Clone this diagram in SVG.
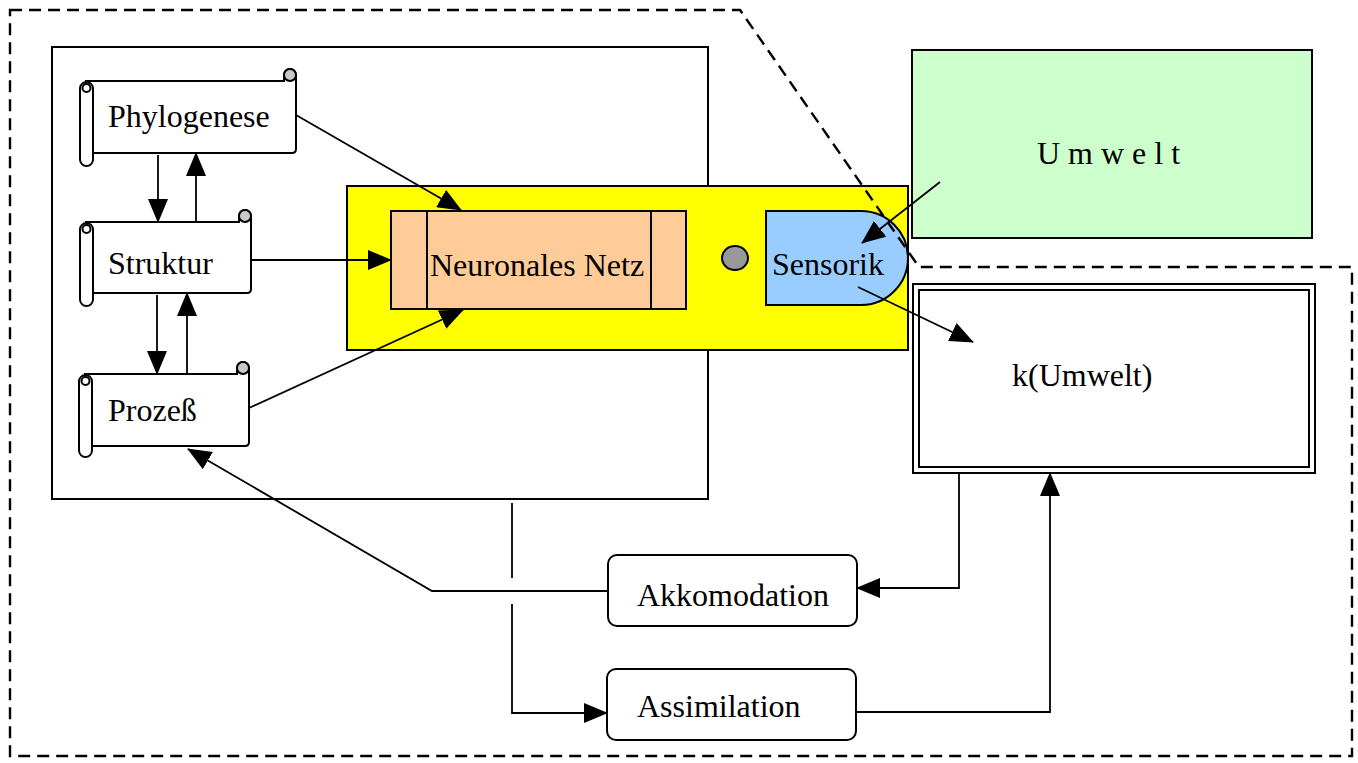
<svg xmlns="http://www.w3.org/2000/svg" width="1358" height="763" viewBox="0 0 1358 763">
<style>
.t{font-family:"Liberation Serif","Times New Roman",serif;font-size:32px;fill:#000}
.s{stroke:#000;stroke-width:2;fill:none}
.c{stroke:#000;stroke-width:1.8;fill:none}
.d{stroke:#000;stroke-width:2.4;fill:none;stroke-dasharray:12 7}
.w{fill:#fff;stroke:#000;stroke-width:2}
.curl{fill:#c8c8c8;stroke:#000;stroke-width:2}
</style>
<defs>
<marker id="ah" markerUnits="userSpaceOnUse" markerWidth="24" markerHeight="20" viewBox="0 0 24 20" refX="23" refY="10" orient="auto">
<path d="M0,0 L24,10 L0,20 Z" fill="#000"/>
</marker>
</defs>
<rect width="1358" height="763" fill="#fff"/>

<g id="system-frame">
<rect x="52" y="47" width="656" height="452" class="s" fill="none"/>
</g>

<g id="umwelt">
<rect x="912" y="50" width="400" height="188" fill="#ccffcc" stroke="#000" stroke-width="2"/>
<text class="t" x="1037" y="164">U m w e l t</text>
</g>

<g id="kernel">
<rect x="347" y="186" width="561" height="164" fill="#ffff00" stroke="#000" stroke-width="2"/>
</g>

<g id="neuronales-netz">
<rect x="391" y="211" width="295" height="98" fill="#ffcc99" stroke="#000" stroke-width="2"/>
<line x1="427" y1="211" x2="427" y2="309" class="s"/>
<line x1="651" y1="211" x2="651" y2="309" class="s"/>
<text class="t" x="430" y="276">Neuronales Netz</text>
</g>

<g id="knoten">
<ellipse cx="735" cy="258" rx="13" ry="12" fill="#999" stroke="#000" stroke-width="2"/>
</g>

<g id="sensorik">
<path d="M766,211 H861 A47,47 0 0 1 861,305 H766 Z" fill="#99ccff" stroke="#000" stroke-width="2"/>
<text class="t" x="772" y="275">Sensorik</text>
</g>

<g id="k-umwelt">
<rect x="913" y="284" width="402" height="189" class="s" fill="#fff"/>
<rect x="919" y="290" width="390" height="177" class="s"/>
<text class="t" x="1012" y="386">k(Umwelt)</text>
</g>

<g id="phylogenese">
<path d="M93,81 H284 V75 A6,6 0 0 1 296,75 V149 Q296,153 292,153 H93 Z" fill="#fff" stroke="none"/>
<path class="s" d="M85,81 H284 V75 A6,6 0 0 1 296,75 V149 Q296,153 292,153 H93"/>
<circle class="curl" cx="290" cy="75" r="6"/>
<rect class="w" x="80" y="82" width="13" height="84" rx="6.5"/>
<circle class="s" cx="86.5" cy="88" r="4"/>
<text class="t" x="108" y="127">Phylogenese</text>
</g>

<g id="struktur">
<path d="M93,222 H239 V216 A6,6 0 0 1 251,216 V289 Q251,293 247,293 H93 Z" fill="#fff" stroke="none"/>
<path class="s" d="M85,222 H239 V216 A6,6 0 0 1 251,216 V289 Q251,293 247,293 H93"/>
<circle class="curl" cx="245" cy="216" r="6"/>
<rect class="w" x="80" y="223" width="13" height="83" rx="6.5"/>
<circle class="s" cx="86.5" cy="229" r="4"/>
<text class="t" x="108" y="274">Struktur</text>
</g>

<g id="prozess">
<path d="M92,374 H237 V368 A6,6 0 0 1 249,368 V442 Q249,446 245,446 H92 Z" fill="#fff" stroke="none"/>
<path class="s" d="M84,374 H237 V368 A6,6 0 0 1 249,368 V442 Q249,446 245,446 H92"/>
<circle class="curl" cx="243" cy="368" r="6"/>
<rect class="w" x="79" y="375" width="13" height="82" rx="6.5"/>
<circle class="s" cx="85.5" cy="381" r="4"/>
<text class="t" x="108" y="421">Prozeß</text>
</g>

<g id="akkomodation">
<rect class="w" x="608" y="555" width="249" height="71" rx="9"/>
<text class="t" x="637" y="606">Akkomodation</text>
</g>

<g id="assimilation">
<rect class="w" x="607" y="669" width="249" height="71" rx="9"/>
<text class="t" x="637" y="717">Assimilation</text>
</g>

<g id="connectors">
<line class="c" x1="296" y1="115" x2="461" y2="210" marker-end="url(#ah)"/>
<line class="c" x1="251" y1="260" x2="391" y2="260" marker-end="url(#ah)"/>
<line class="c" x1="249" y1="408" x2="463" y2="310" marker-end="url(#ah)"/>
<line class="c" x1="158" y1="155" x2="158" y2="222" marker-end="url(#ah)"/>
<line class="c" x1="196" y1="222" x2="196" y2="153" marker-end="url(#ah)"/>
<line class="c" x1="157" y1="295" x2="157" y2="374" marker-end="url(#ah)"/>
<line class="c" x1="187" y1="374" x2="187" y2="293" marker-end="url(#ah)"/>
<line class="c" x1="940" y1="182" x2="862" y2="243" marker-end="url(#ah)"/>
<line class="c" x1="858" y1="287" x2="973" y2="342" marker-end="url(#ah)"/>
<polyline class="c" points="959,473 959,588 857,588" marker-end="url(#ah)"/>
<polyline class="c" points="856,712 1050,712 1050,473" marker-end="url(#ah)"/>
<polyline class="c" points="608,591 432,591 188,449" marker-end="url(#ah)"/>
<line class="c" x1="512" y1="503" x2="512" y2="578"/>
<polyline class="c" points="512,604 512,713 607,713" marker-end="url(#ah)"/>
</g>

<g id="dashed-boundary">
<path class="d" d="M10,10 H740 L919,267 H1352 V756 H10 Z"/>
</g>
</svg>
